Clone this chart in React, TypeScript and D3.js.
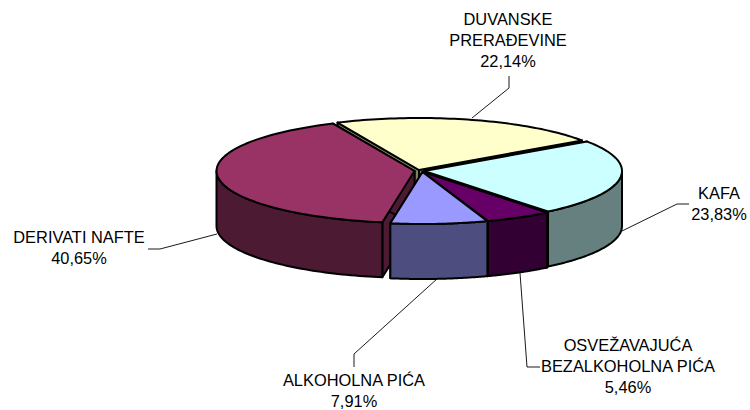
import React from 'react';
import * as d3 from 'd3';

const categories = ['DUVANSKE PRERAĐEVINE', 'KAFA', 'OSVEŽAVAJUĆA BEZALKOHOLNA PIĆA', 'ALKOHOLNA PIĆA', 'DERIVATI NAFTE'];
const shares = [22.14, 23.83, 5.46, 7.91, 40.65];
const topColors = ['#ffffcc', '#ccffff', '#660066', '#9999ff', '#993366'];
const sideColors = ['#808066', '#668080', '#330033', '#4d4d80', '#4d1a33'];

// exploded slice apex positions
const apexX = [419, 424, 423, 422.5, 414.5];
const apexY = [170, 171, 172, 172, 171];
const drawOrder = [0, 1, 4, 2, 3];

const labelLines = [
  { lines: ['DUVANSKE', 'PRERAĐEVINE', '22,14%'], x: 508, y: 25 },
  { lines: ['KAFA', '23,83%'], x: 719, y: 199 },
  { lines: ['OSVEŽAVAJUĆA', 'BEZALKOHOLNA PIĆA', '5,46%'], x: 628, y: 351 },
  { lines: ['ALKOHOLNA PIĆA', '7,91%'], x: 354, y: 386 },
  { lines: ['DERIVATI NAFTE', '40,65%'], x: 79, y: 243 },
];
const leaders = [
  'M 472 118 L 509 88 L 509 76',
  'M 622 231 L 677 204 L 689 204',
  'M 520 273 L 527 367 L 540 367',
  'M 438 278 L 354 354 L 354 367',
  'M 217 234 L 160 249 L 148 249',
];

const rx = 198;
const ry = 52;
const depth = 55;
const strokeW = 2;
const lineGap = 21;

export default function App() {
  const pie = d3.pie<number>().sort(null).startAngle((-24.3 * Math.PI) / 180).endAngle(((360 - 24.3) * Math.PI) / 180);
  const arcs = pie(shares);

  const pt = (i: number, a: number, r = 1, dz = 0): [number, number] => [
    apexX[i] + rx * r * Math.sin(a),
    apexY[i] - ry * r * Math.cos(a) + dz,
  ];
  const line = d3.line<[number, number]>();

  const sweep = (i: number, a0: number, a1: number, dz = 0): [number, number][] =>
    d3.range(0, 61).map(k => pt(i, a0 + ((a1 - a0) * k) / 60, 1, dz));

  return (
    <svg width={750} height={410} style={{ position: 'absolute', left: 0, top: 0, fontFamily: '"Liberation Sans", Arial, sans-serif' }}>
      <g stroke="#000" strokeWidth={0.9} fill="none">
        {leaders.map((d, i) => <path key={i} d={d} />)}
      </g>
      {drawOrder.map(i => {
        const { startAngle: s, endAngle: e } = arcs[i];
        const apex = pt(i, 0, 0);
        const apexLow = pt(i, 0, 0, depth);
        const walls: string[] = [];
        [s, e].forEach(a => {
          const a2 = pt(i, a);
          const a3 = pt(i, a, 1, depth);
          walls.push(line([apex, a2, a3, apexLow])! + 'Z');
        });
        // outer wall, only the part facing the viewer
        const lo = Math.max(s, Math.PI / 2);
        const hi = Math.min(e, (3 * Math.PI) / 2);
        const outer = lo < hi
          ? line([...sweep(i, lo, hi), ...sweep(i, hi, lo, depth)])! + 'Z'
          : null;
        const top = line([apex, ...sweep(i, s, e)])! + 'Z';
        return (
          <g key={categories[i]} stroke="#000" strokeWidth={strokeW} strokeLinejoin="round">
            {walls.map((d, k) => <path key={k} d={d} fill={sideColors[i]} />)}
            {outer && <path d={outer} fill={sideColors[i]} />}
            <path d={top} fill={topColors[i]} />
          </g>
        );
      })}
      <g fontSize={16.4} fill="#000" textAnchor="middle">
        {labelLines.map((l, i) => (
          <text key={i} x={l.x} y={l.y}>
            {l.lines.map((t, k) => <tspan key={k} x={l.x} dy={k === 0 ? 0 : lineGap}>{t}</tspan>)}
          </text>
        ))}
      </g>
    </svg>
  );
}
